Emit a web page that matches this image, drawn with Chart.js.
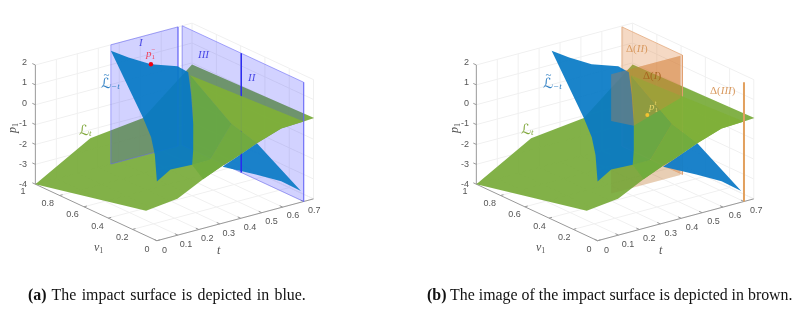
<!DOCTYPE html>
<html>
<head>
<meta charset="utf-8">
<script src="https://cdn.jsdelivr.net/npm/chart.js@4"></script>
<style>
  body { margin: 0; background: #fff; overflow: hidden; }
  canvas { position: absolute; top: 0; }
  #chartA { left: 0; }
  #chartB { left: 400px; }
  .cap { position: absolute; top: 286px; font: 15.9px "Liberation Serif", serif; color: #111; white-space: nowrap; }
</style>
</head>
<body>
<canvas id="chartA" width="400" height="309"></canvas>
<canvas id="chartB" width="399" height="309"></canvas>
<div class="cap" style="left:28px;word-spacing:1.4px"><b>(a)</b> The impact surface is depicted in blue.</div>
<div class="cap" style="left:427px"><b>(b)</b> The image of the impact surface is depicted in brown.</div>
<script>
// axis ticks
const pTicks = [-4, -3, -2, -1, 0, 1, 2];
const tTicks = [0, 0.1, 0.2, 0.3, 0.4, 0.5, 0.6, 0.7];
const vTicks = [0, 0.2, 0.4, 0.6, 0.8, 1];
const pTickLabels = ["-4", "-3", "-2", "-1", "0", "1", "2"];
const tTickLabels = ["0", "0.1", "0.2", "0.3", "0.4", "0.5", "0.6", "0.7"];
const vTickLabels = ["0", "0.2", "0.4", "0.6", "0.8", "1"];
const tMax = 0.747, vMax = 1, pMin = -4, pMax = 2;

// surfaces, every vertex is [t, v1, p1]
const greenSheet = [[0, 1, -4], [0.262, 1, -2.43], [0.514, 1, -2.12], [0.747, 1, -0.08], [0.75, 0, 0.06],
  [0.696, 0, 0.02], [0.593, 0, -0.03], [0.477, 0, -0.44], [0.43, 0, -0.65], [0.313, 0, -1.11],
  [0.22, 0, -1.53], [0.098, 0, -2.17], [0, 0.089, -2.74]];
const greenLight = [[0.7, 0.934, -0.3], [0.7, 0, 0.02], [0.593, 0, -0.03], [0.477, 0, -0.44], [0.529, 0.3, -0.46]];
const greenDark = [[0.7, 0.934, -0.3], [0.529, 0.3, -0.46], [0.368, 0.2, -1.54], [0.342, 0.3, -2], [0.636, 0.8, -1.55]];
const greenMid = [[0.529, 0.3, -0.46], [0.477, 0, -0.44], [0.43, 0, -0.65], [0.36, 0, -0.95], [0.368, 0.2, -1.54]];
const greenLow = [[0.368, 0.2, -1.54], [0.36, 0, -0.95], [0.313, 0, -1.11], [0.22, 0, -1.53], [0.342, 0.3, -2]];
const blueSheet = [[0.36, 1, 1.7], [0.444, 1, 1.12], [0.551, 1, 0.48], [0.678, 1, 0.02], [0.671, 0.9, 0.03],
  [0.598, 0.75, -0.47], [0.521, 0.6, -1.29], [0.405, 0.4, -1.72], [0.342, 0.3, -2], [0.181, 0.2, -1.5],
  [0.116, 0.2, -1.91], [0.251, 0.45, -1.68], [0.349, 0.65, -1.63], [0.398, 0.8, -1.22]];
const blueWing = [[0.477, 0, -0.44], [0.687, 0, -3.44], [0.593, 0, -2.68], [0.472, 0, -2], [0.313, 0, -1.16]];

// regions and markers
const planeI = [[0.36, 1, 2], [0.68, 1, 2], [0.68, 1, -4], [0.36, 1, -4]];
const planeII = [[0.7, 1, 2], [0.7, 0, 2], [0.7, 0, -4], [0.7, 1, -4]];
const lineIII = [[0.7, 0.514, 2], [0.7, 0.514, -4]];
const pointA = [[0.551, 1, 0.48]];
const imageII = [[0.69, 0.99, 2], [0.69, 0.49, 2], [0.69, 0.49, -4], [0.69, 0.99, -4]];
const imageI = [[0.349, 0.49, 2], [0.68, 0.49, 2], [0.68, 0.49, -4], [0.349, 0.49, -4]];
const imageIFront = [[0.349, 0.49, 2], [0.68, 0.49, 2], [0.68, 0.49, -0.13], [0.457, 0.49, -0.9], [0.349, 0.49, -0.35]];
const imageIII = [[0.7, 0, 2], [0.7, 0, -4]];
const pointB = [[0.435, 0.34, 0.13]];

const SANS = '"Liberation Sans", Arial, sans-serif';
const SERIF = '"Liberation Serif", serif';
const SCRIPT = '"DejaVu Sans", serif';
const BLUE_TXT = "#2f7fc4", GREEN_TXT = "#80a83c", PLANE_TXT = "#4a4ae6", BROWN_TXT = "#d99a60";

const poly = (pts, fill, border, width) => ({ pts, fill, border, width, closed: true });
const stroke = (pts, border, width) => ({ pts, border, width });
const dot = (pts, color, radius) => ({ pts, color, radius });

const green = [
  poly(greenLow, "rgba(114,172,62,.94)"),
  poly(greenDark, "rgba(104,168,68,.94)"),
  poly(greenMid, "rgba(114,172,62,.94)"),
  poly(greenLight, "rgba(128,176,56,.94)"),
];
const greenBase = poly(greenSheet, "rgba(126,174,66,.97)");
const blueFront = poly(blueSheet, "rgba(6,122,197,.92)");
const blueBack = poly(blueWing, "rgba(20,126,200,.97)");

const layersA = [
  greenBase,
  poly(planeI, "rgba(30,30,255,.2)", "rgba(100,100,245,.55)", 1),
  poly(planeII, "rgba(30,30,255,.2)", "rgba(100,100,245,.55)", 1),
  blueBack,
  stroke(lineIII, "#2a2af0", 1.5),
  ...green,
  blueFront,
  dot(pointA, "#f00010", 2.2),
];
const layersB = [
  poly(imageI, "rgba(222,130,60,.3)"),
  greenBase,
  poly(imageI, "rgba(120,110,40,.1)"),
  poly(imageII, "rgba(222,130,60,.3)", "rgba(225,160,110,.7)", 1),
  blueBack,
  ...green,
  blueFront,
  poly(imageIFront, "rgba(222,130,60,.32)"),
  stroke(imageIII, "#e2a05e", 2),
  dot(pointB, "#f2c230", 2),
];

// a label is a run of [style, family, size, text, dx, dy, advance]
const IT = "italic ";
const lBlue = [["", SERIF, 11, "~", 2.5, -9, false], ["", SCRIPT, 14, "\u2112", 0, 0, true], [IT, SERIF, 9, "\u2212t", 0, 3, true]];
const lGreen = [["", SCRIPT, 14, "\u2112", 0, 0, true], [IT, SERIF, 9, "t", 0, 3, true]];
const textsA = [
  { x: 101, y: 84, color: BLUE_TXT, run: lBlue },
  { x: 79, y: 131, color: GREEN_TXT, run: lGreen },
  { x: 139, y: 43, color: PLANE_TXT, run: [[IT, SERIF, 11, "I", 0, 0, true]] },
  { x: 198, y: 55, color: PLANE_TXT, run: [[IT, SERIF, 11, "III", 0, 0, true]] },
  { x: 248, y: 78, color: PLANE_TXT, run: [[IT, SERIF, 11, "II", 0, 0, true]] },
  { x: 146, y: 54, color: "#f0405a", run: [[IT, SERIF, 11, "p", 0, 0, true], ["", SERIF, 7, "1", 0, 3, false], ["", SERIF, 7, "\u2212", 0, -4, false]] },
];
const textsB = [
  { x: 143, y: 84, color: BLUE_TXT, run: lBlue },
  { x: 121, y: 130, color: GREEN_TXT, run: lGreen },
  { x: 226, y: 49, color: BROWN_TXT, run: [["", SERIF, 11, "\u0394(", 0, 0, true], [IT, SERIF, 11, "II", 0, 0, true], ["", SERIF, 11, ")", 0, 0, true]] },
  { x: 243, y: 76, color: "#a8651f", run: [["", SERIF, 11, "\u0394(", 0, 0, true], [IT, SERIF, 11, "I", 0, 0, true], ["", SERIF, 11, ")", 0, 0, true]] },
  { x: 310, y: 91, color: BROWN_TXT, run: [["", SERIF, 11, "\u0394(", 0, 0, true], [IT, SERIF, 11, "III", 0, 0, true], ["", SERIF, 11, ")", 0, 0, true]] },
  { x: 249, y: 107, color: "#e8d468", run: [[IT, SERIF, 11, "p", 0, 0, true], ["", SERIF, 7, "1", 0, 3, false], [IT, SERIF, 7, "t", 0, -4, false]] },
];

function drawRun(ctx, item) {
  let x = item.x;
  ctx.fillStyle = item.color;
  ctx.textAlign = "left";
  ctx.textBaseline = "middle";
  for (const [style, family, size, str, dx, dy, advance] of item.run) {
    ctx.font = style + size + "px " + family;
    ctx.fillText(str, x + dx, item.y + dy);
    if (advance) x += ctx.measureText(str).width + dx;
  }
}

function makePanel(id, x0, layers, texts) {
  const project = ([t, v, p]) => ({
    x: x0 + 214 * t - 124 * v,
    y: 243 - 57.5 * t - 58 * v - 20.4 * (p - pMin),
  });

  // walls and floor grid, then the three axes
  const grid = [];
  for (const t of tTicks.slice(1)) {
    grid.push([[t, 0, pMin], [t, vMax, pMin], [t, vMax, pMax]]);
  }
  for (const v of vTicks.slice(0, -1)) {
    grid.push([[0, v, pMin], [tMax, v, pMin], [tMax, v, pMax]]);
  }
  grid.push([[tMax, 0, pMin], [tMax, vMax, pMin], [tMax, vMax, pMax]]);
  for (const p of pTicks) {
    grid.push([[0, vMax, p], [tMax, vMax, p], [tMax, 0, p]]);
  }
  const axes = [
    [[0, vMax, pMin], [0, vMax, pMax]],
    [[0, 0, pMin], [0, vMax, pMin]],
    [[0, 0, pMin], [tMax, 0, pMin]],
  ];
  for (const p of pTicks) axes.push([[0, vMax, p], [0, vMax + 0.025, p]]);
  for (const t of tTicks) axes.push([[t, 0, pMin], [t, 0.025, pMin]]);
  for (const v of vTicks) axes.push([[0, v, pMin], [0.014, v, pMin]]);

  const lineSet = (pts, color, width) => ({
    data: pts.map(project), showLine: true, borderColor: color, borderWidth: width,
    pointRadius: 0, fill: false, tension: 0,
  });

  const sets = [];
  grid.forEach(g => sets.push(lineSet(g, "#f0f0f0", 1)));
  axes.forEach(a => sets.push(lineSet(a, "#999", 1)));
  layers.forEach(l => {
    if (l.radius) {
      sets.push({ data: l.pts.map(project), showLine: false, pointRadius: l.radius,
        pointBackgroundColor: l.color, pointBorderWidth: 0 });
    } else if (l.closed) {
      const pts = l.pts.concat([l.pts[0]]);
      sets.push({ data: pts.map(project), showLine: true, pointRadius: 0, tension: 0,
        fill: "shape", backgroundColor: l.fill,
        borderColor: l.border || "rgba(0,0,0,0)", borderWidth: l.width || 0 });
    } else {
      sets.push(lineSet(l.pts, l.border, l.width));
    }
  });

  const labelPlugin = {
    id: "labels3d",
    afterDatasetsDraw(chart) {
      const ctx = chart.ctx;
      ctx.save();
      ctx.fillStyle = "#555";
      ctx.font = "9px " + SANS;
      ctx.textAlign = "center";
      ctx.textBaseline = "middle";
      tTicks.forEach((t, i) => {
        const q = project([t, 0, pMin]);
        ctx.fillText(tTickLabels[i], q.x + 8.5, q.y + 7.5);
      });
      vTicks.forEach((v, i) => {
        const q = project([0, v, pMin]);
        ctx.fillText(vTickLabels[i], q.x - 9, q.y + 6.5);
      });
      ctx.textAlign = "right";
      pTicks.forEach((p, i) => {
        const q = project([0, vMax, p]);
        ctx.fillText(pTickLabels[i], q.x - 5, q.y);
      });
      // axis names
      const axisRun = (a, b) => [[IT, SERIF, 12, a, 0, 0, true], ["", SERIF, 8, b, 0, 3, true]];
      drawRun(ctx, { x: x0 - 62, y: 248, color: "#555", run: axisRun("v", "1") });
      drawRun(ctx, { x: x0 + 61, y: 251, color: "#555", run: [[IT, SERIF, 12, "t", 0, 0, true]] });
      ctx.save();
      ctx.translate(x0 - 143, 127);
      ctx.rotate(-Math.PI / 2);
      drawRun(ctx, { x: -6, y: 0, color: "#555", run: axisRun("p", "1") });
      ctx.restore();
      texts.forEach(item => drawRun(ctx, item));
      ctx.restore();
    },
  };

  return new Chart(document.getElementById(id), {
    type: "scatter",
    // chart.js paints the first dataset last
    data: { datasets: sets.reverse() },
    options: {
      responsive: false,
      animation: false,
      events: [],
      layout: { padding: 0 },
      plugins: { legend: { display: false }, tooltip: { enabled: false } },
      scales: {
        x: { type: "linear", min: 0, max: 400, display: false },
        y: { type: "linear", min: 0, max: 309, reverse: true, display: false },
      },
    },
    plugins: [labelPlugin],
  });
}

makePanel("chartA", 156, layersA, textsA);
makePanel("chartB", 198, layersB, textsB);
</script>
</body>
</html>
